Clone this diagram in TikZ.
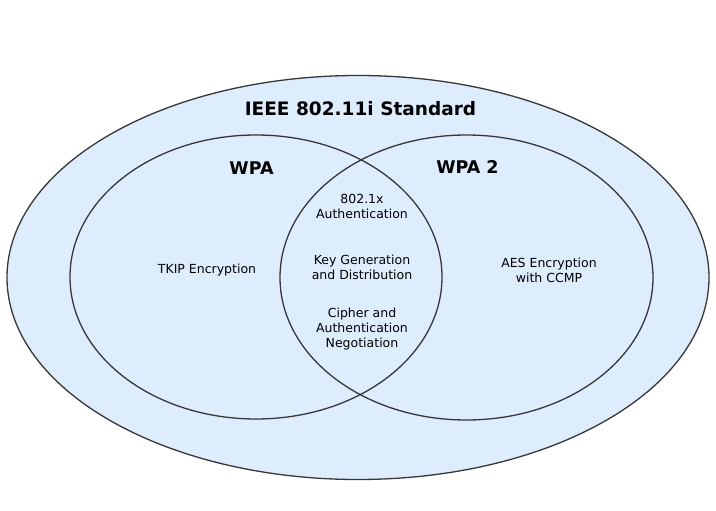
\documentclass[tikz,border=0pt]{standalone}
\usepackage{fontspec}
\setmainfont{DejaVu Sans}
\definecolor{stdblue}{RGB}{222,237,253}
\definecolor{rimgray}{RGB}{55,55,55}
\tikzset{
  rim/.style={draw=rimgray,line width=1.3pt},
  headtxt/.style={font=\fontsize{17.5}{20}\selectfont\bfseries},
  smalltxt/.style={font=\fontsize{12.5}{15}\selectfont,align=center,inner sep=0pt}
}
\begin{document}
\begin{tikzpicture}[x=1pt,y=-1pt]
\useasboundingbox (0,0) rectangle (716,511);

% the standard and the two protocol sets
\filldraw[fill=stdblue,rim] (358,277.5) ellipse (351pt and 202pt);
\draw[rim] (256,277) ellipse (186pt and 142pt);
\draw[rim] (466.5,277.5) ellipse (186.5pt and 142.5pt);

\node[headtxt,font=\fontsize{18.5}{20}\selectfont\bfseries] (std) at (360.5,109) {IEEE 802.11i Standard};
\node[headtxt] (wpa) at (251.5,168) {WPA};
\node[headtxt] (wpatwo) at (467.5,167) {WPA 2};

\node[smalltxt] (tkip) at (207,270) {TKIP Encryption};
\node[smalltxt] (aes) at (549,270) {AES Encryption\\with CCMP};

% shared part
\node[smalltxt] (auth) at (362,206.5) {802.1x\\Authentication};
\node[smalltxt] (keygen) at (362,267) {Key Generation\\and Distribution};
\node[smalltxt] (cipher) at (362,329.5) {Cipher and\\Authentication\\Negotiation};
\end{tikzpicture}
\end{document}
